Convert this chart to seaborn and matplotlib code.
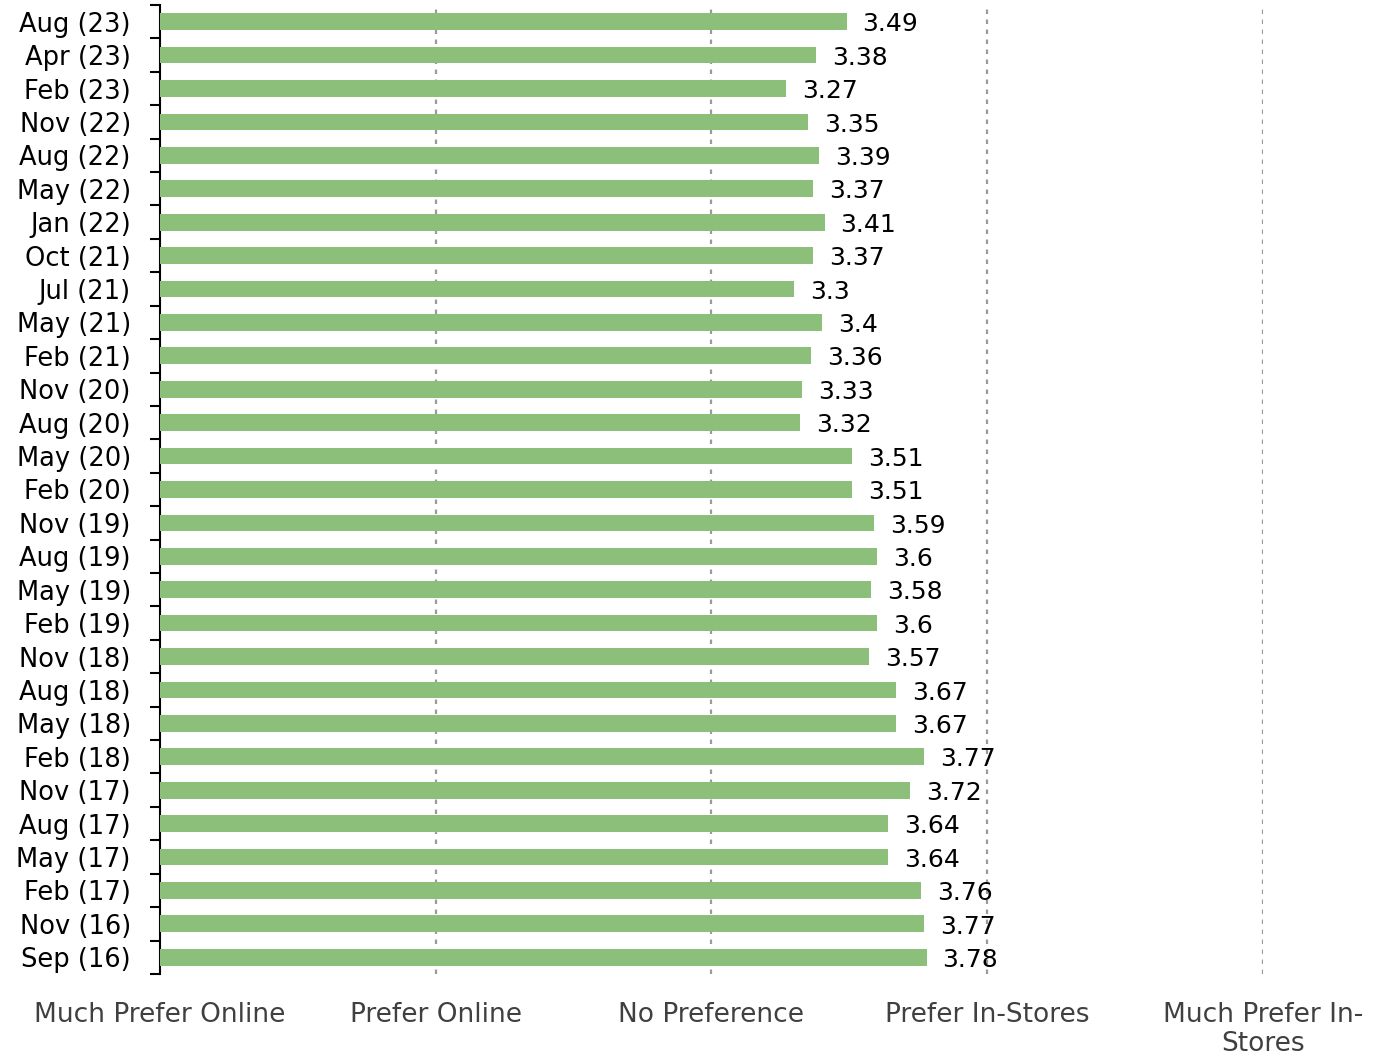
import matplotlib
matplotlib.use("Agg")
import matplotlib.pyplot as plt
import seaborn as sns
import pandas as pd
import numpy as np

periods = ["Aug (23)", "Apr (23)", "Feb (23)", "Nov (22)", "Aug (22)", "May (22)",
           "Jan (22)", "Oct (21)", "Jul (21)", "May (21)", "Feb (21)", "Nov (20)",
           "Aug (20)", "May (20)", "Feb (20)", "Nov (19)", "Aug (19)", "May (19)",
           "Feb (19)", "Nov (18)", "Aug (18)", "May (18)", "Feb (18)", "Nov (17)",
           "Aug (17)", "May (17)", "Feb (17)", "Nov (16)", "Sep (16)"]
scores = [3.49, 3.38, 3.27, 3.35, 3.39, 3.37, 3.41, 3.37, 3.3, 3.4, 3.36, 3.33,
          3.32, 3.51, 3.51, 3.59, 3.6, 3.58, 3.6, 3.57, 3.67, 3.67, 3.77, 3.72,
          3.64, 3.64, 3.76, 3.77, 3.78]
scale_labels = ["Much Prefer Online", "Prefer Online", "No Preference",
                "Prefer In-Stores", "Much Prefer In-\nStores"]
scale_values = [1, 2, 3, 4, 5]

sns.set_theme(style="white")
plt.rcParams["font.family"] = ["DejaVu Sans"]

df = pd.DataFrame({"period": periods, "score": scores})

fig = plt.figure(figsize=(13.8, 10.59), dpi=100)
ax = fig.add_axes([0.1159, 0.0803, 0.7993, 0.915])

# Bars grow from the left edge of the 1-5 scale
sns.barplot(data=df, y="period", x="score", order=periods, orient="h",
            color="#8BBF7A", saturation=1, width=0.5, ax=ax,
            edgecolor="none", zorder=3)
for p in ax.patches:
    p.set_x(1.0)
    p.set_width(p.get_width() - 1.0)

ax.set_xlim(1, 5)
ax.set_ylim(len(periods) - 0.5, -0.5)

# Value labels
for i, v in enumerate(scores):
    ax.text(v + 0.058, i + 0.08, f"{v:g}", va="center", ha="left",
            fontsize=18, color="black", zorder=4)

# Dotted reference lines
for xv in scale_values[1:]:
    ax.axvline(xv, color="#9a9a9a", linestyle=(0, (2, 2.5)), linewidth=1.6, zorder=1)

ax.set_xticks(scale_values)
ax.set_xticklabels(scale_labels, fontsize=19, color="#404040", linespacing=1.15)
ax.tick_params(axis="x", length=0, pad=20)

ax.set_yticks(range(len(periods)))
ax.set_yticklabels(periods, fontsize=18.5, color="black")
ax.tick_params(axis="y", which="major", length=0, pad=21)
ax.set_yticks(np.arange(-0.5, len(periods), 1.0), minor=True)
ax.tick_params(axis="y", which="minor", length=7, width=1.5, color="black", left=True)

for side in ["top", "right", "bottom"]:
    ax.spines[side].set_visible(False)
ax.spines["left"].set_color("black")
ax.spines["left"].set_linewidth(1.5)

ax.set_xlabel("")
ax.set_ylabel("")
ax.grid(False)

fig.savefig("out.png", dpi=100)
